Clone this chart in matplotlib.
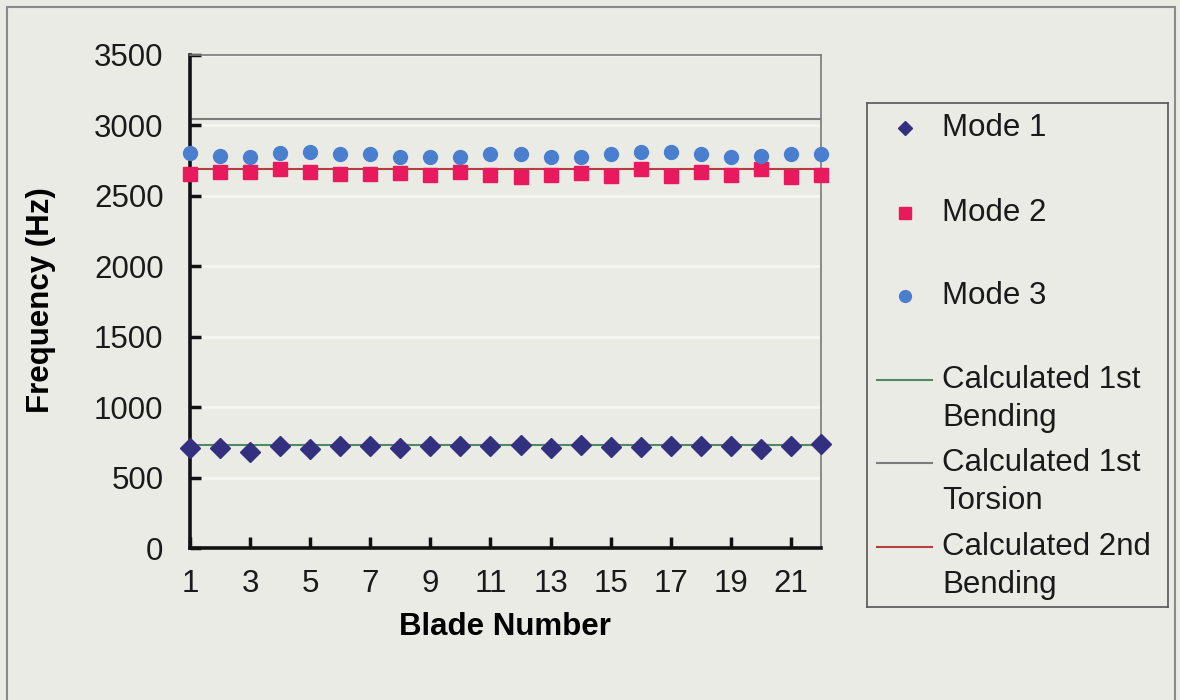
import numpy as np
import matplotlib
matplotlib.use("Agg")
import matplotlib.pyplot as plt
from matplotlib.patches import Rectangle

# data
blades = list(range(1, 23))
mode1 = [707, 707, 684, 724, 700, 724, 724, 707, 724, 724, 724,
         729, 707, 729, 719, 719, 724, 724, 724, 700, 724, 738]
mode2 = [2654, 2671, 2671, 2690, 2671, 2652, 2652, 2659, 2647, 2671, 2647,
         2635, 2647, 2664, 2640, 2690, 2640, 2671, 2647, 2688, 2635, 2647]
mode3 = [2801, 2782, 2777, 2801, 2813, 2796, 2796, 2777, 2773, 2777, 2796,
         2796, 2773, 2777, 2796, 2813, 2813, 2796, 2773, 2782, 2796, 2796]
calc_bend1 = 731
calc_torsion = 3047
calc_bend2 = 2690
x_ticks = list(range(1, 23, 2))
y_ticks = list(range(0, 3501, 500))

bg = "#ebebe5"
plt.rcParams["font.family"] = ["Liberation Sans", "DejaVu Sans"]
plt.rcParams["text.color"] = "#1a1a1a"

fig = plt.figure(figsize=(11.8, 7), dpi=100, facecolor=bg)

# outer chart frame
fig.add_artist(Rectangle((7 / 1180, -0.02), 1168 / 1180, 1 - 7 / 700 + 0.02,
                         transform=fig.transFigure, fill=False,
                         edgecolor="#8a8a8a", lw=1.5))

ax = fig.add_axes([190 / 1180, 1 - 548 / 700, 631 / 1180, 493 / 700])
ax.set_facecolor(bg)

for v in y_ticks[1:]:
    ax.axhline(v, color="#f6f6f2", lw=2, zorder=1)

ax.hlines(calc_bend1, blades[0], blades[-1], color="#4f8a60", lw=1.5, zorder=2)
ax.hlines(calc_torsion, blades[0], blades[-1], color="#7c7c7c", lw=1.5, zorder=2)
ax.hlines(calc_bend2, blades[0], blades[-1], color="#b3403f", lw=1.5, zorder=2)

ax.plot(blades, mode1, ls="none", marker="D", ms=10, color="#343080", zorder=3, clip_on=False)
ax.plot(blades, mode2, ls="none", marker="s", ms=9.5, color="#e8195d", zorder=3, clip_on=False)
ax.plot(blades, mode3, ls="none", marker="o", ms=10, color="#4a7fd0", zorder=3, clip_on=False)

ax.set_xlim(1, 22)
ax.set_ylim(0, 3500)
ax.set_xticks(x_ticks)
ax.set_yticks(y_ticks)
ax.tick_params(axis="both", direction="in", length=8, width=2.5, color="#111111",
               labelsize=22.5, labelcolor="#1a1a1a")
ax.tick_params(axis="y", pad=19)
ax.tick_params(axis="x", pad=15)

for side in ("left", "bottom"):
    ax.spines[side].set_linewidth(2.6)
    ax.spines[side].set_color("#111111")
for side in ("top", "right"):
    ax.spines[side].set_linewidth(1.2)
    ax.spines[side].set_color("#7a7a7a")

ax.set_xlabel("Blade Number", fontsize=22.5, fontweight="bold")
ax.set_ylabel("Frequency (Hz)", fontsize=22.5, fontweight="bold")
ax.xaxis.label.set_va("center")
ax.yaxis.label.set_va("center")
ax.xaxis.set_label_coords(0.499, -0.16)
ax.yaxis.set_label_coords(-0.236, 0.503)

# legend box, laid out in pixel units like the reference
lax = fig.add_axes([867 / 1180, 1 - 607 / 700, 301 / 1180, 504 / 700])
lax.set_xlim(867, 1168)
lax.set_ylim(607, 103)
lax.set_facecolor(bg)
lax.set_xticks([])
lax.set_yticks([])
for s in lax.spines.values():
    s.set_color("#555555")
    s.set_linewidth(1.2)

marker_rows = [("Mode 1", "D", 7.5, "#343080", 128),
               ("Mode 2", "s", 8.5, "#e8195d", 213),
               ("Mode 3", "o", 8.5, "#4a7fd0", 296)]
for label, mk, size, col, y in marker_rows:
    lax.plot([905], [y], marker=mk, ms=size, color=col, ls="none")
    lax.text(942, y, label, fontsize=22.5, va="center", ha="left")

line_rows = [("Calculated 1st\nBending", "#4f8a60", 380),
             ("Calculated 1st\nTorsion", "#7c7c7c", 463),
             ("Calculated 2nd\nBending", "#b3403f", 547)]
for label, col, y in line_rows:
    lax.plot([877, 932], [y, y], color=col, lw=1.5)
    lax.text(942, y + 19, label, fontsize=22.5, va="center", ha="left",
             linespacing=1.32)

fig.savefig("out.png", dpi=100, facecolor=bg)
